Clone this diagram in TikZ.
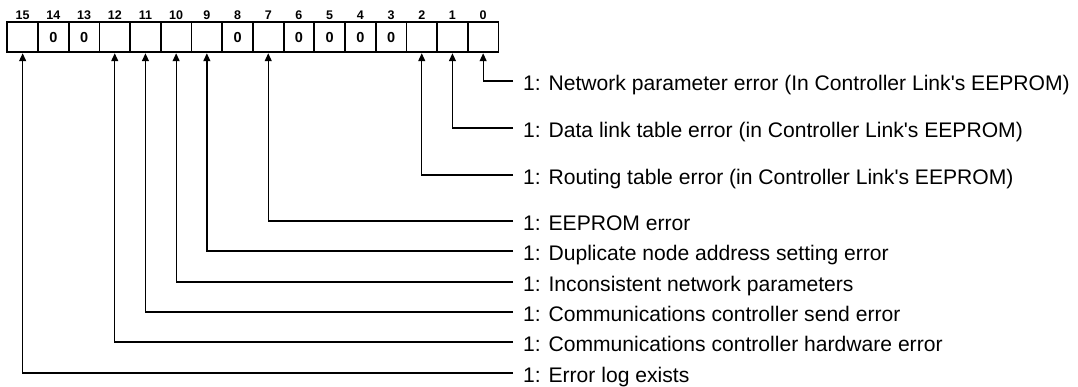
\documentclass[tikz,border=0pt]{standalone}
\usepackage{fontspec}
\setmainfont{Liberation Sans}
\usetikzlibrary{arrows.meta}

\begin{document}
\begin{tikzpicture}[
    x=1pt, y=-1pt,
    % Estilos de celdas
    cell/.style={draw, line width=1.8pt, minimum width=30.7pt, minimum height=30.3pt, inner sep=0pt},
    zero/.style={font=\bfseries\fontsize{14.5}{16}\selectfont, inner sep=0pt},
    bit number/.style={font=\bfseries\fontsize{12.5}{14}\selectfont, inner sep=0pt},
    % Estilos de textos y flechas
    msg/.style={anchor=west, inner xsep=10pt, inner ysep=0pt, text height=18.6pt, text depth=0pt,
        font=\fontsize{21.1}{24}\selectfont},
    bit arrow/.style={line width=1.3pt, -{Triangle[length=8pt, width=7pt]}}
]
    \useasboundingbox (0,0) rectangle (1078,387);

    % Celdas del registro (bit 15 a la izquierda)
    \foreach \b in {0,...,15} {
        \pgfmathsetmacro\cx{7.3+(15.5-\b)*30.7}
        \node[cell] (b\b) at (\cx,37.2) {};
        \node[bit number] (n\b) at (\cx,15) {\b};
    }

    % Bits fijos a cero
    \foreach \b in {14,13,8,6,5,4,3} {
        \node[zero] (z\b) at (b\b) {0};
    }

    % Textos y conectores
    \foreach \b/\y/\t in {
        0/81/{Network parameter error (In Controller Link\textquotesingle s EEPROM)},
        1/128/{Data link table error (in Controller Link\textquotesingle s EEPROM)},
        2/175/{Routing table error (in Controller Link\textquotesingle s EEPROM)},
        7/221/{EEPROM error},
        9/251/{Duplicate node address setting error},
        10/282/{Inconsistent network parameters},
        11/312/{Communications controller send error},
        12/342/{Communications controller hardware error},
        15/373/{Error log exists}} {
        \node[msg] (m\b) at (513,\y) {1: \t};
        \draw[bit arrow] (m\b.west) -| (b\b.south);
    }
\end{tikzpicture}
\end{document}
